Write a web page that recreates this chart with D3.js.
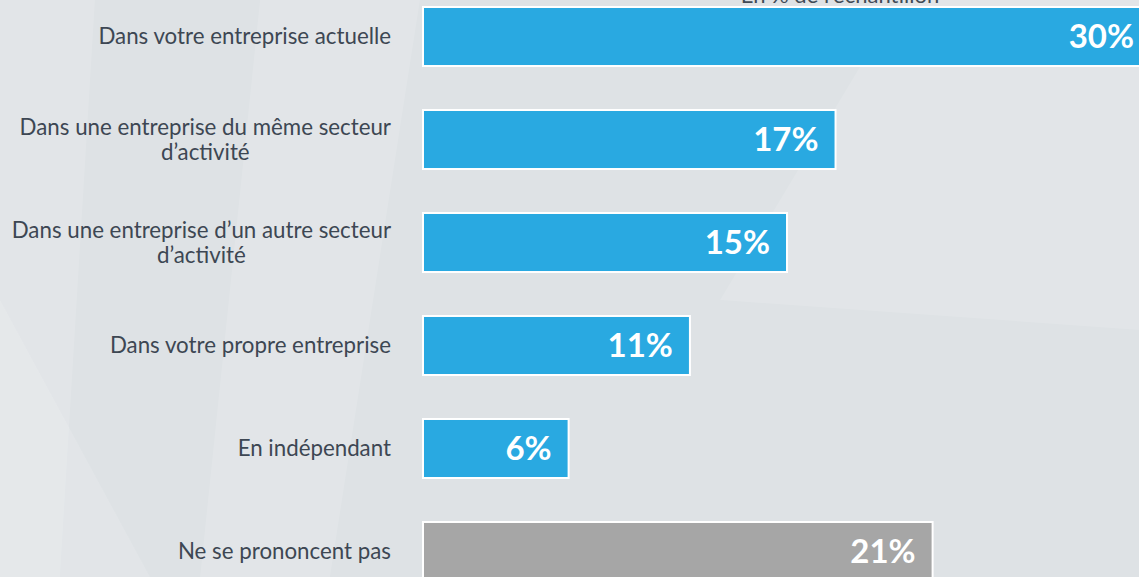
<!DOCTYPE html>
<html>
<head>
<meta charset="utf-8">
<script src="https://cdn.jsdelivr.net/npm/d3@7"></script>
<style>
  html, body { margin: 0; padding: 0; overflow: hidden; }
  body { width: 1139px; height: 577px; background: #dfe3e6; }
</style>
</head>
<body>
<div id="chart"></div>
<script>
// data
var categories = [
    "Dans votre entreprise actuelle",
    "Dans une entreprise du même secteur\nd’activité",
    "Dans une entreprise d’un autre secteur\nd’activité",
    "Dans votre propre entreprise",
    "En indépendant",
    "Ne se prononcent pas"
];
var values = [30, 17, 15, 11, 6, 21];
var barColors = ["#29a9e1", "#29a9e1", "#29a9e1", "#29a9e1", "#29a9e1", "#a6a6a6"];
var caption = "En % de l’échantillon";

var width = 1139, height = 577;
var font = "Lato, 'Open Sans', sans-serif";

var svg = d3.select("#chart").append("svg")
    .attr("width", width)
    .attr("height", height);

// background: soft grey with a few lighter facets
svg.append("rect").attr("width", width).attr("height", height).attr("fill", "#dee2e5");
var facets = [
    [[0, 0], [95, 0], [60, 577], [0, 577]],
    [[260, 0], [420, 0], [330, 577], [200, 577]],
    [[720, 300], [900, 0], [1139, 0], [1139, 330]],
    [[0, 300], [150, 577], [0, 577]]
];
svg.selectAll("polygon.facet").data(facets).enter().append("polygon")
    .attr("class", "facet")
    .attr("points", function(d) { return d.map(function(p) { return p.join(","); }).join(" "); })
    .attr("fill", "#ffffff")
    .attr("fill-opacity", 0.12);

// scales
var x = d3.scaleLinear().domain([0, 30]).range([423, 1151]);
var y = d3.scaleBand().domain(d3.range(categories.length))
    .range([7, 581]).paddingInner(0.427).paddingOuter(0);

// caption above the plot (cut off by the top edge in the original)
svg.append("text")
    .attr("x", 840)
    .attr("y", 3)
    .attr("text-anchor", "middle")
    .attr("font-family", font)
    .attr("font-size", 22)
    .attr("fill", "#404a55")
    .text(caption);

// bars
svg.selectAll("rect.bar").data(values).enter().append("rect")
    .attr("class", "bar")
    .attr("x", x(0))
    .attr("y", function(d, i) { return y(i); })
    .attr("width", function(d) { return x(d) - x(0); })
    .attr("height", y.bandwidth())
    .attr("fill", function(d, i) { return barColors[i]; })
    .attr("stroke", "#ffffff")
    .attr("stroke-width", 2);

// value labels
svg.selectAll("text.val").data(values).enter().append("text")
    .attr("class", "val")
    .attr("x", function(d) { return x(d) - 17; })
    .attr("y", function(d, i) { return y(i) + y.bandwidth() / 2; })
    .attr("dy", "0.36em")
    .attr("text-anchor", "end")
    .attr("font-family", font)
    .attr("font-weight", "bold")
    .attr("font-size", 33)
    .attr("fill", "#ffffff")
    .text(function(d) { return d + "%"; });

// category labels: right aligned block, lines centred within it
var rightEdge = 391;
var lineH = 25;
categories.forEach(function(c, i) {
    var lines = c.split("\n");
    var t = svg.append("text")
        .attr("font-family", font)
        .attr("font-size", 22.3)
        .attr("fill", "#3d4753")
        .attr("text-anchor", "middle");
    var cy = y(i) + y.bandwidth() / 2;
    var top = cy - (lines.length - 1) * lineH / 2;
    lines.forEach(function(l, j) {
        t.append("tspan").attr("x", 0).attr("y", top + j * lineH).attr("dy", "0.35em").text(l);
    });
    var w = t.node().getBBox().width;
    t.selectAll("tspan").attr("x", rightEdge - w / 2);
});
</script>
</body>
</html>
